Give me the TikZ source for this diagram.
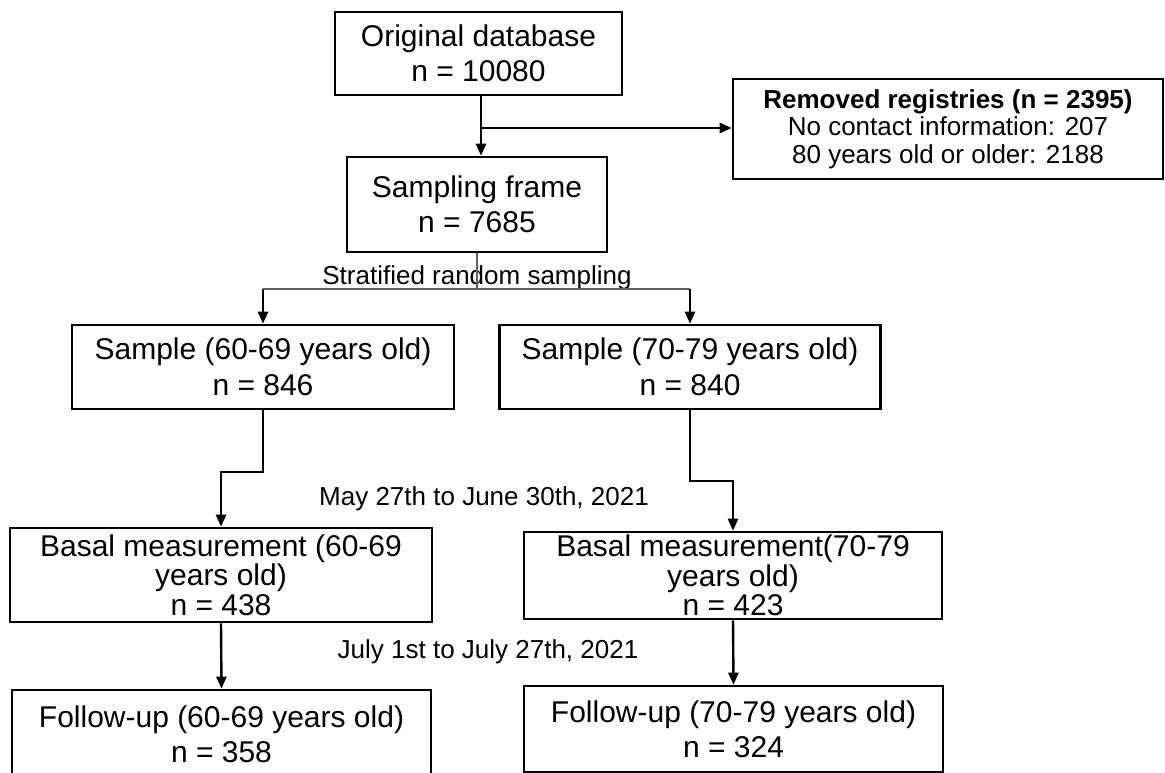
\documentclass[tikz,border=0pt]{standalone}
\usepackage{fontspec}
\setmainfont{Liberation Sans}
\usetikzlibrary{arrows.meta}
\newcommand\mytightlines{\setlength{\lineskiplimit}{-40pt}}
\tikzset{
  box/.style={draw=black, line width=2.6pt, align=center, inner sep=0pt, font=\fontsize{30}{35}\selectfont\mytightlines},
  smallbox/.style={box, font=\fontsize{26}{27.5}\selectfont\mytightlines},
  conn/.style={line width=2.4pt, draw=black, -{Triangle[length=12pt,width=10pt]}},
  grayline/.style={line width=2.4pt, draw=black!62},
  lbl/.style={font=\fontsize{26}{30}\selectfont, inner sep=0pt}
}
\begin{document}
\begin{tikzpicture}[x=1pt,y=-1pt]
\clip (0,0) rectangle (1165,773);
\fill[white] (0,0) rectangle (1165,773);
% boxes
\node[box, minimum width=287pt, minimum height=83pt] (orig) at (478.5,53.5) {Original database\\n = 10080};
\node[smallbox, minimum width=430pt, minimum height=100pt] (rem) at (948,129) {\textbf{Removed registries (n = 2395)}\\No contact information: 207\\80 years old or older: 2188};
\node[box, minimum width=260pt, minimum height=95pt] (frame) at (477,204.5) {Sampling frame\\n = 7685};
\node[box, minimum width=382pt, minimum height=84pt, font=\fontsize{30}{36}\selectfont\mytightlines] (s60) at (263,367) {Sample (60-69 years old)\\n = 846};
\node[box, minimum width=381pt, minimum height=84pt, font=\fontsize{30}{36}\selectfont\mytightlines] (s70) at (690,367) {Sample (70-79 years old)\\n = 840};
\node[box, minimum width=422pt, minimum height=94pt, font=\fontsize{30}{29.5}\selectfont\mytightlines] (b60) at (221,575) {Basal measurement (60-69\\years old)\\n = 438};
\node[box, minimum width=418pt, minimum height=87pt, font=\fontsize{30}{29.5}\selectfont\mytightlines] (b70) at (733,575.5) {Basal measurement(70-79\\years old)\\n = 423};
\node[box, minimum width=419pt, minimum height=89pt] (f60) at (221.5,734.5) {Follow-up (60-69 years old)\\n = 358};
\node[box, minimum width=419pt, minimum height=86pt] (f70) at (733.5,729) {Follow-up (70-79 years old)\\n = 324};
% labels
\node[lbl] (strat) at (477,278) {Stratified random sampling};
\node[lbl] (may) at (484,499) {May 27th to June 30th, 2021};
\node[lbl] (july) at (488,652) {July 1st to July 27th, 2021};
% connectors
\coordinate (br) at (481,128);
\draw[conn] (orig.south -| br) -- (frame.north -| br);
\draw[conn] (br) -- (rem.west |- br);
\coordinate (split) at (477,289);
\draw[grayline] (frame.south) -- (split);
\draw[grayline] (s60.north |- split) -- (s70.north |- split);
\draw[conn] (s60.north |- split) -- (s60.north);
\draw[conn] (s70.north |- split) -- (s70.north);
\coordinate (e60) at (263,472);
\coordinate (e70) at (690,481);
\draw[conn] (s60.south) -- (e60) -| (b60.north);
\draw[conn] (s70.south) -- (e70) -| (b70.north);
\draw[conn] (b60.south) -- (f60.north);
\draw[conn] (b70.south) -- (f70.north);
\end{tikzpicture}
\end{document}
